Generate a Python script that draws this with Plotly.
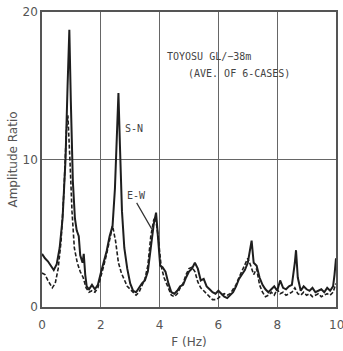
import plotly.graph_objects as go

# S-N (solid)
f_sn = [0.0, 0.1, 0.2, 0.3, 0.4, 0.5, 0.6, 0.7, 0.8, 0.87, 0.93, 0.98, 1.05, 1.12, 1.18, 1.25, 1.3, 1.38, 1.42, 1.47,
        1.52, 1.6, 1.7, 1.8, 1.9, 2.0, 2.1, 2.2, 2.3, 2.4, 2.48, 2.55, 2.6, 2.65, 2.72, 2.8, 2.9, 3.0, 3.1, 3.2,
        3.3, 3.4, 3.5, 3.6, 3.7, 3.8, 3.88, 3.95, 4.02, 4.1, 4.2, 4.3, 4.4, 4.5, 4.6, 4.7, 4.8, 4.9, 5.0, 5.1,
        5.2, 5.3, 5.4, 5.5, 5.6, 5.7, 5.8, 5.9, 6.0, 6.1, 6.2, 6.3, 6.4, 6.5, 6.6, 6.7, 6.8, 6.9, 7.0, 7.08,
        7.13, 7.2, 7.3, 7.4, 7.5, 7.6, 7.7, 7.8, 7.9, 8.0, 8.1, 8.2, 8.3, 8.4, 8.5, 8.6, 8.64, 8.7, 8.8, 8.9,
        9.0, 9.1, 9.2, 9.3, 9.4, 9.5, 9.6, 9.7, 9.8, 9.9, 9.95, 10.0]
a_sn = [3.6, 3.3, 3.1, 2.8, 2.5, 2.9, 4.0, 6.0, 10.0, 15.0, 18.8, 14.0, 8.5, 6.0, 5.2, 4.8, 3.5, 3.0, 3.6, 2.2,
        1.4, 1.2, 1.5, 1.2, 1.5, 2.3, 3.0, 3.8, 4.8, 5.5, 8.0, 12.0, 14.5, 11.0, 6.5, 4.0, 2.6, 1.6, 1.1, 1.0,
        1.3, 1.6, 1.8, 2.4, 4.0, 5.6, 6.4, 4.5, 2.8, 2.7, 2.4, 1.6, 1.0, 0.9, 1.1, 1.4, 1.5, 2.0, 2.4, 2.6,
        3.0, 2.6, 1.8, 1.9, 1.4, 1.2, 1.0, 0.9, 1.1, 0.9, 0.7, 0.6, 0.8, 1.0, 1.4, 1.9, 2.2, 2.5, 3.0, 3.8,
        4.5, 3.0, 2.8, 2.0, 1.5, 1.2, 1.0, 1.2, 1.4, 1.1, 1.8, 1.3, 1.2, 1.4, 1.5, 3.0, 3.85, 2.0, 1.1, 1.4,
        1.2, 1.1, 1.3, 1.0, 1.1, 1.2, 1.0, 1.3, 1.1, 1.4, 2.2, 3.3]

# E-W (dashed)
f_ew = [0.0, 0.1, 0.2, 0.3, 0.35, 0.45, 0.55, 0.65, 0.75, 0.83, 0.88, 0.95, 1.02, 1.1, 1.2, 1.3, 1.4, 1.5, 1.6, 1.7,
        1.8, 1.9, 2.0, 2.1, 2.2, 2.3, 2.4, 2.5, 2.6, 2.7, 2.8, 2.9, 3.0, 3.1, 3.2, 3.3, 3.4, 3.5, 3.6, 3.7,
        3.8, 3.86, 3.95, 4.05, 4.15, 4.3, 4.4, 4.5, 4.6, 4.7, 4.8, 4.9, 5.0, 5.1, 5.2, 5.3, 5.4, 5.5, 5.6, 5.7,
        5.8, 5.9, 6.0, 6.1, 6.2, 6.3, 6.4, 6.5, 6.6, 6.7, 6.8, 6.9, 7.0, 7.1, 7.2, 7.3, 7.4, 7.5, 7.6, 7.7,
        7.8, 7.9, 8.0, 8.1, 8.2, 8.3, 8.4, 8.5, 8.6, 8.7, 8.8, 8.9, 9.0, 9.1, 9.2, 9.3, 9.4, 9.5, 9.6, 9.7,
        9.8, 9.9, 10.0]
a_ew = [2.3, 2.2, 1.8, 1.4, 1.3, 1.6, 2.6, 4.5, 8.0, 12.0, 13.0, 10.0, 6.5, 4.0, 3.0, 2.4, 2.0, 1.3, 1.0, 1.1,
        1.0, 1.3, 2.0, 2.8, 3.6, 4.6, 5.5, 4.5, 3.0, 2.3, 1.8, 1.4, 1.2, 1.0, 0.8, 1.0, 1.4, 1.9, 2.8, 4.8,
        5.9, 6.1, 4.8, 2.8, 2.0, 1.2, 0.8, 0.7, 0.9, 1.3, 1.6, 2.2, 2.6, 2.7, 2.4, 1.7, 1.3, 1.1, 0.9, 0.7,
        0.5, 0.5, 0.6, 0.8, 0.9, 0.8, 0.9, 1.2, 1.5, 2.0, 2.4, 2.9, 3.3, 2.8, 2.2, 2.6, 1.5, 1.0, 0.7, 0.8,
        1.0, 0.8, 1.2, 0.9, 1.0, 0.8, 0.9, 1.0, 1.3, 0.9, 0.8, 1.0, 0.8, 0.9, 0.7, 0.8, 0.9, 0.7, 0.8, 0.9,
        0.8, 1.0, 1.6]

x_ticks = [0, 2, 4, 6, 8, 10]
y_ticks = [0, 10, 20]

ink = "#1e1e1e"
txt = "#555555"

fig = go.Figure()
fig.add_trace(go.Scatter(x=f_ew, y=a_ew, mode="lines",
                         line=dict(color=ink, width=1.6, dash="4px,2px"), showlegend=False))
fig.add_trace(go.Scatter(x=f_sn, y=a_sn, mode="lines",
                         line=dict(color=ink, width=2), showlegend=False))

fig.update_layout(
    width=343, height=351,
    margin=dict(l=42, r=7, t=12, b=44, autoexpand=False),
    paper_bgcolor="white", plot_bgcolor="white",
    font=dict(family="DejaVu Sans", size=12, color=txt),
    xaxis=dict(range=[0, 10], tickvals=x_ticks, ticktext=[str(v) for v in x_ticks],
               showgrid=True, gridcolor="#666666", gridwidth=1,
               showline=True, linecolor="#555555", linewidth=1.5, mirror=True,
               ticks="", zeroline=False, automargin=False, ticklabelstandoff=6,
               title=dict(text="F (Hz)", standoff=6, font=dict(size=12, color=txt))),
    yaxis=dict(range=[0, 20], tickvals=y_ticks, ticktext=[str(v) for v in y_ticks],
               showgrid=True, gridcolor="#666666", gridwidth=1,
               showline=True, linecolor="#555555", linewidth=1.5, mirror=True,
               ticks="", zeroline=False, automargin=False,
               title=dict(text="Amplitude Ratio", standoff=2, font=dict(size=12, color=txt))),
)

# last x tick label runs past the page edge in the reference; draw it as text at x = 10
last_tick = x_ticks[-1]
fig.add_annotation(x=last_tick, y=0, xref="x", yref="paper", text=str(last_tick),
                   showarrow=False, xanchor="center", yanchor="top", yshift=-9,
                   font=dict(family="DejaVu Sans", size=12, color=txt))

mono = dict(family="DejaVu Sans Mono", size=10, color="#444444")
fig.add_annotation(x=4.2, y=16.95, xref="x", yref="y", text="TOYOSU GL/\u221238m",
                   showarrow=False, xanchor="left", yanchor="middle", font=mono)
fig.add_annotation(x=4.9, y=15.85, xref="x", yref="y", text="(AVE. OF 6-CASES)",
                   showarrow=False, xanchor="left", yanchor="middle", font=mono)
fig.add_annotation(x=2.75, y=12.1, xref="x", yref="y", text="S-N",
                   showarrow=False, xanchor="left", yanchor="middle", font=mono)
fig.add_annotation(x=3.73, y=5.3, xref="x", yref="y", text="E-W",
                   showarrow=True, arrowhead=0, arrowwidth=1.2, arrowcolor="#333333",
                   ax=-15, ay=-26, xanchor="center", yanchor="bottom", font=mono)

fig.write_html("out.html")
